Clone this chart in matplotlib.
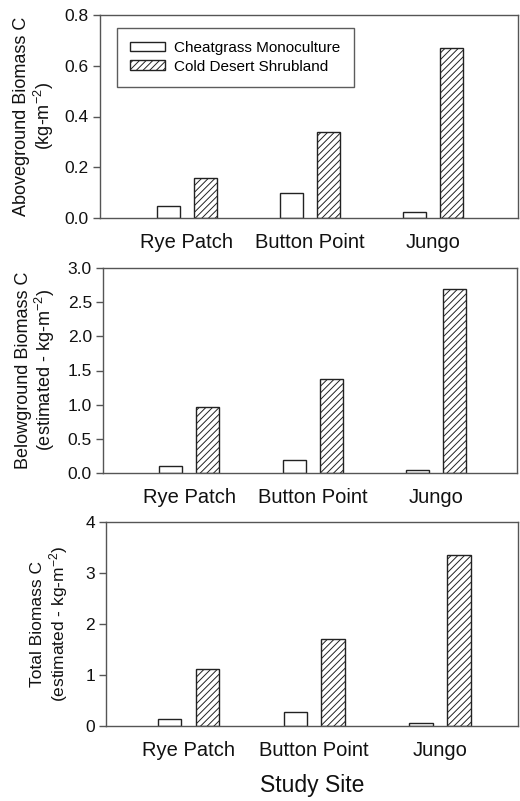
import numpy as np
import matplotlib
matplotlib.use('Agg')
import matplotlib.pyplot as plt

plt.rcParams['font.family'] = ['Liberation Sans', 'DejaVu Sans']
plt.rcParams['mathtext.fontset'] = 'custom'
plt.rcParams['mathtext.rm'] = 'Liberation Sans'
plt.rcParams['mathtext.it'] = 'Liberation Sans'
plt.rcParams['hatch.linewidth'] = 0.7
plt.rcParams['hatch.color'] = '#333333'

#Data
sites = ['Rye Patch', 'Button Point', 'Jungo']
series = ['Cheatgrass Monoculture', 'Cold Desert Shrubland']
above_cheat = [0.048, 0.097, 0.024]
above_shrub = [0.159, 0.340, 0.668]
below_cheat = [0.097, 0.19, 0.05]
below_shrub = [0.97, 1.37, 2.69]
total_cheat = [0.137, 0.28, 0.065]
total_shrub = [1.116, 1.70, 3.35]

ylabels = ['Aboveground Biomass C\n(kg-m$^{\\mathregular{-2}}$)',
           'Belowground Biomass C\n(estimated - kg-m$^{\\mathregular{-2}}$)',
           'Total Biomass C\n(estimated - kg-m$^{\\mathregular{-2}}$)']
yticks = [[0.0, 0.2, 0.4, 0.6, 0.8],
          [0.0, 0.5, 1.0, 1.5, 2.0, 2.5, 3.0],
          [0, 1, 2, 3, 4]]
ytickfmt = ['%.1f', '%.1f', '%d']

W, H = 520, 801
fig = plt.figure(figsize=(W/100, H/100), dpi=100)

# pixel boxes: left, right, top, bottom
boxes = [(100, 518, 15, 218), (103, 517, 268, 473), (106, 518, 522, 726)]
xlims = [(0.293, 3.691), (0.30, 3.656), (0.344, 3.62)]
label_x = [-0.105, -0.11, -0.088]
ylab_size = [13, 13, 12.5]

data = [(above_cheat, above_shrub), (below_cheat, below_shrub), (total_cheat, total_shrub)]
x = np.arange(1, len(sites) + 1)
bw = 0.187
off = 0.15
spine_c = '#555555'

for i in range(3):
    l, r, t, b = boxes[i]
    ax = fig.add_axes([l/W, 1 - b/H, (r - l)/W, (b - t)/H])
    c, s = data[i]
    ax.bar(x - off, c, bw, color='white', edgecolor='#222222', linewidth=1.0, label=series[0])
    ax.bar(x + off, s, bw, color='white', edgecolor='#222222', linewidth=1.0, hatch='/////', label=series[1])
    ax.set_xlim(*xlims[i])
    ax.set_ylim(yticks[i][0], yticks[i][-1])
    ax.set_yticks(yticks[i])
    ax.set_yticklabels([ytickfmt[i] % v for v in yticks[i]])
    ax.set_xticks(x)
    ax.set_xticklabels(sites)
    ax.tick_params(axis='x', length=0, labelsize=14.5, pad=11, colors='#111111')
    ax.tick_params(axis='y', length=5, width=1, direction='out', labelsize=12.5, pad=3,
                   colors='#111111', color=spine_c)
    for sp in ax.spines.values():
        sp.set_color(spine_c)
        sp.set_linewidth(1.0)
    ax.set_ylabel(ylabels[i], fontsize=ylab_size[i], color='#111111', linespacing=1.1)
    ax.yaxis.set_label_coords(label_x[i], 0.5)
    if i == 0:
        leg = ax.legend(loc='upper left', bbox_to_anchor=(0.041, 0.936), borderaxespad=0,
                        fontsize=11, frameon=True, fancybox=False, edgecolor='#333333',
                        handlelength=2.3, handleheight=0.6, handletextpad=0.6,
                        labelspacing=0.3, borderpad=0.85)
        leg.get_frame().set_linewidth(1.0)
    if i == 2:
        ax.set_xlabel('Study Site', fontsize=16.5, labelpad=10, color='#111111')

fig.savefig('out.png', dpi=100)
